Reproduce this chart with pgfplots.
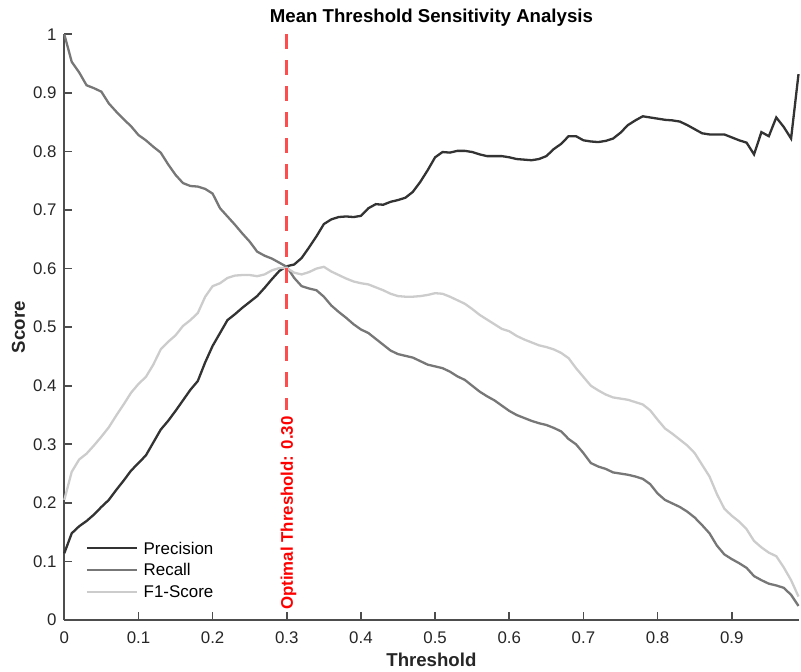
\documentclass[border=0pt]{standalone}
\usepackage{pgfplots}
\pgfplotsset{compat=1.18}
\usepackage{pgfplotstable}
\usepackage{fontspec}
\setmainfont{Liberation Sans}

\definecolor{cprec}{RGB}{51,51,51}
\definecolor{crec}{RGB}{119,119,119}
\definecolor{cf1}{RGB}{204,204,204}
\definecolor{cred}{RGB}{255,77,77}
\definecolor{caxis}{RGB}{77,77,77}
\definecolor{ctext}{RGB}{38,38,38}

\pgfplotstableread{
x prec rec f1
0.00 0.114 1.000 0.205
0.01 0.148 0.953 0.253
0.02 0.160 0.935 0.274
0.03 0.169 0.913 0.284
0.04 0.180 0.908 0.298
0.05 0.193 0.902 0.313
0.06 0.205 0.882 0.329
0.07 0.222 0.868 0.349
0.08 0.238 0.855 0.368
0.09 0.255 0.843 0.388
0.10 0.268 0.828 0.403
0.11 0.281 0.819 0.415
0.12 0.303 0.808 0.436
0.13 0.325 0.798 0.462
0.14 0.340 0.778 0.475
0.15 0.357 0.760 0.486
0.16 0.375 0.746 0.502
0.17 0.393 0.741 0.512
0.18 0.408 0.740 0.524
0.19 0.440 0.736 0.552
0.20 0.468 0.728 0.570
0.21 0.490 0.703 0.575
0.22 0.512 0.689 0.584
0.23 0.522 0.675 0.588
0.24 0.533 0.660 0.589
0.25 0.543 0.646 0.589
0.26 0.553 0.629 0.587
0.27 0.567 0.622 0.590
0.28 0.582 0.617 0.597
0.29 0.596 0.610 0.601
0.30 0.604 0.603 0.601
0.31 0.607 0.584 0.593
0.32 0.618 0.570 0.590
0.33 0.636 0.566 0.594
0.34 0.655 0.563 0.600
0.35 0.676 0.552 0.603
0.36 0.684 0.537 0.595
0.37 0.688 0.526 0.589
0.38 0.689 0.516 0.583
0.39 0.688 0.505 0.578
0.40 0.690 0.496 0.575
0.41 0.703 0.490 0.573
0.42 0.710 0.480 0.568
0.43 0.709 0.470 0.563
0.44 0.714 0.460 0.557
0.45 0.717 0.454 0.553
0.46 0.721 0.451 0.552
0.47 0.731 0.448 0.552
0.48 0.748 0.442 0.553
0.49 0.768 0.436 0.555
0.50 0.790 0.433 0.558
0.51 0.799 0.430 0.557
0.52 0.798 0.424 0.552
0.53 0.801 0.416 0.546
0.54 0.801 0.410 0.540
0.55 0.799 0.400 0.531
0.56 0.795 0.390 0.521
0.57 0.792 0.382 0.513
0.58 0.792 0.375 0.505
0.59 0.792 0.366 0.497
0.60 0.790 0.357 0.493
0.61 0.787 0.350 0.485
0.62 0.786 0.345 0.479
0.63 0.785 0.340 0.474
0.64 0.787 0.336 0.469
0.65 0.792 0.333 0.466
0.66 0.804 0.328 0.462
0.67 0.813 0.322 0.456
0.68 0.826 0.309 0.447
0.69 0.826 0.300 0.430
0.70 0.819 0.285 0.415
0.71 0.817 0.268 0.400
0.72 0.816 0.262 0.392
0.73 0.818 0.258 0.385
0.74 0.822 0.252 0.380
0.75 0.832 0.250 0.378
0.76 0.845 0.248 0.376
0.77 0.853 0.245 0.372
0.78 0.860 0.241 0.368
0.79 0.858 0.232 0.358
0.80 0.856 0.216 0.342
0.81 0.854 0.205 0.327
0.82 0.853 0.199 0.318
0.83 0.851 0.193 0.308
0.84 0.845 0.185 0.298
0.85 0.838 0.175 0.285
0.86 0.831 0.162 0.265
0.87 0.829 0.148 0.245
0.88 0.829 0.127 0.215
0.89 0.829 0.112 0.190
0.90 0.824 0.104 0.178
0.91 0.819 0.097 0.168
0.92 0.815 0.089 0.155
0.93 0.795 0.075 0.135
0.94 0.833 0.068 0.124
0.95 0.826 0.062 0.115
0.96 0.858 0.059 0.109
0.97 0.842 0.055 0.090
0.98 0.822 0.043 0.068
0.99 0.932 0.024 0.040
}\datatable

\begin{document}
\begin{tikzpicture}
\begin{axis}[
  name=ax,
  scale only axis,
  width=734.2bp, height=585.7bp,
  xmin=0, xmax=0.99, ymin=0, ymax=1,
  axis x line*=bottom, axis y line*=left,
  axis line style={-, line width=1.6bp, color=caxis},
  xtick={0,0.1,...,0.9},
  ytick={0,0.1,...,1},
  tick align=inside,
  major tick length=8bp,
  tick style={line width=1.6bp, color=caxis},
  /pgf/number format/assume math mode=true,
  ticklabel style={font=\fontsize{16.9}{19}\selectfont, text=ctext},
  xticklabel style={inner sep=0pt, anchor=north, yshift=-11.7bp},
  yticklabel style={inner sep=0pt, anchor=east, xshift=-7.6bp},
  title={Mean Threshold Sensitivity Analysis},
  title style={at={(axis description cs:0.5,1)}, anchor=base, yshift=6bp,
    font=\fontsize{18.7}{22}\selectfont\bfseries, text=black, inner sep=0pt},
  xlabel={Threshold},
  xlabel style={at={(axis description cs:0.5,0)}, anchor=center, yshift=-40bp,
    font=\fontsize{18.7}{22}\selectfont\bfseries, text=ctext},
  ylabel={Score},
  ylabel style={at={(axis description cs:-0.0624,0.5)}, anchor=center, rotate=0,
    font=\fontsize{18.7}{22}\selectfont\bfseries, text=ctext},
  legend style={draw=none, fill=none, at={(0,0)}, anchor=south west,
    xshift=21.4bp, yshift=22.4bp, inner sep=0pt, outer sep=0pt,
    row sep=9.9bp, column sep=5.7bp,
    nodes={inner sep=0pt, text height=11.8bp, text depth=0pt,
      font=\fontsize{17}{19}\selectfont, text=black}},
  legend cell align=left,
  legend image code/.code={\draw[#1] (0bp,0bp) -- (50bp,0bp);},
  clip=false,
]
\addplot[cprec, line width=2.3bp] table[x=x, y=prec] {\datatable};
\addlegendentry{Precision}
\addplot[crec, line width=2.3bp] table[x=x, y=rec] {\datatable};
\addlegendentry{Recall}
\addplot[cf1, line width=2.3bp] table[x=x, y=f1] {\datatable};
\addlegendentry{F1-Score}
\draw[cred, line width=2.6bp, dash pattern=on 15bp off 11bp]
  (axis cs:0.3,1) -- (axis cs:0.3,0.358);
\node[rotate=90, anchor=west, inner sep=0pt, text=red,
  font=\fontsize{16.9}{19}\selectfont\bfseries]
  at ([xshift=1.7bp,yshift=10bp]axis cs:0.3,0) {Optimal Threshold: 0.30};
\end{axis}
\pgfresetboundingbox
\path ([xshift=-64.3bp,yshift=-51bp]ax.south west) rectangle ([xshift=2.5bp,yshift=34.3bp]ax.north east);
\end{tikzpicture}
\end{document}
